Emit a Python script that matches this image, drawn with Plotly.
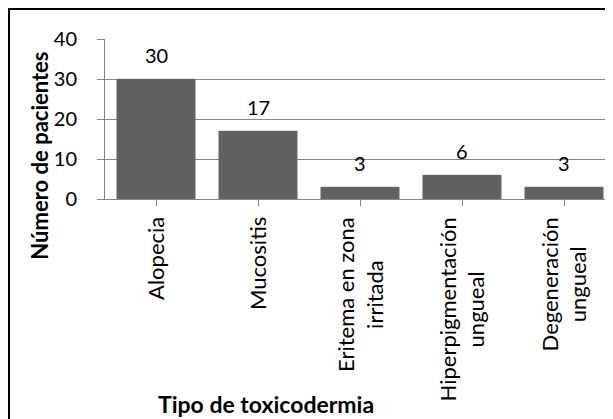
import plotly.graph_objects as go

categories = ["Alopecia", "Mucositis", "Eritema en zona<br>irritada",
              "Hiperpigmentación<br>ungueal", "Degeneración<br>ungueal"]
values = [30, 17, 3, 6, 3]
y_ticks = [0, 10, 20, 30, 40]

FONT = "Lato"
OFF = 8  # default page body margin
W, H = 613 - OFF, 419 - OFF
X0, Y0, YTOP = 105, 199.5, 39     # reference pixel positions of plot area
PW = 613 - X0
PH = Y0 - YTOP


def px(xr):
    return (xr - X0) / PW


def py(yr):
    return (Y0 - yr) / PH


x_idx = list(range(len(categories)))

fig = go.Figure()
fig.add_trace(go.Bar(
    x=x_idx, y=values, width=0.77,
    marker=dict(color="#606060", line=dict(color="#7a7a7a", width=0.5)),
    hoverinfo="skip",
))

ann = []
for xi, v in zip(x_idx, values):
    ann.append(dict(x=xi, y=v, xref="x", yref="y", text=str(v), showarrow=False,
                    yanchor="middle", yshift=24,
                    font=dict(family=FONT, size=20, color="#000")))
for xi, c in zip(x_idx, categories):
    ann.append(dict(x=xi, y=py(216), xref="x", yref="paper", text=c,
                    showarrow=False, textangle=-90, align="center",
                    xanchor="center", yanchor="top",
                    font=dict(family=FONT, size=22, color="#000")))
ann.append(dict(x=px(266), y=py(405), xref="paper", yref="paper",
                text="<b>Tipo de toxicodermia</b>", showarrow=False,
                xanchor="center", yanchor="middle",
                font=dict(family=FONT, size=23, color="#000")))
ann.append(dict(x=px(40), y=py(156), xref="paper", yref="paper",
                text="<b>Número de pacientes</b>", showarrow=False, textangle=-90,
                xanchor="center", yanchor="middle",
                font=dict(family=FONT, size=22, color="#000")))

fig.update_layout(
    width=W, height=H,
    margin=dict(l=X0 - OFF, r=0, t=YTOP - OFF, b=H - (Y0 - OFF), pad=0),
    paper_bgcolor="white", plot_bgcolor="white",
    showlegend=False,
    annotations=ann,
    shapes=[dict(type="rect", xref="paper", yref="paper",
                 x0=px(9), x1=1.2, y0=-3, y1=py(9),
                 line=dict(color="#000", width=2), fillcolor="rgba(0,0,0,0)",
                 layer="above")],
    xaxis=dict(range=[-0.5, -0.5 + PW / 102], tickmode="array", tickvals=x_idx,
               ticktext=[""] * len(x_idx), ticks="outside", tickson="boundaries",
               ticklen=6, tickcolor="#868686", showline=True, linecolor="#868686",
               linewidth=1, showgrid=False, zeroline=False, fixedrange=True),
    yaxis=dict(range=[0, 40], tickvals=y_ticks, ticks="outside", ticklen=7,
               tickcolor="#868686", showline=True, linecolor="#868686", linewidth=1,
               showgrid=True, gridcolor="#868686", gridwidth=1, zeroline=False,
               ticklabelstandoff=16,
               tickfont=dict(family=FONT, size=20, color="#000"), fixedrange=True),
)

fig.write_html("out.html", config={"displayModeBar": False})
